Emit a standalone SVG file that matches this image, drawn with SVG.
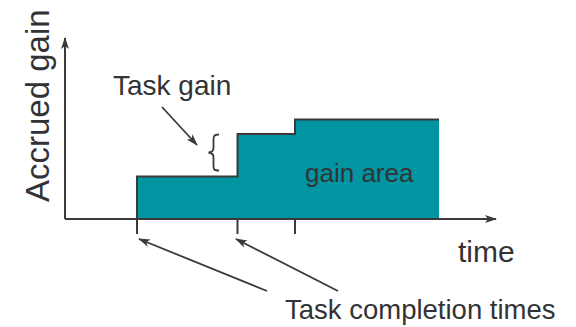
<svg xmlns="http://www.w3.org/2000/svg" width="576" height="327" viewBox="0 0 576 327">
<style>
.ln{fill:none;stroke:#3a3a3c;stroke-width:2}
.ar{fill:none;stroke:#3a3a3c;stroke-width:1.8}
.t{font-family:"Liberation Sans",Arial,sans-serif;fill:#333336}
</style>
<defs>
<marker id="ah" viewBox="0 0 12 8" refX="11" refY="4" markerWidth="12" markerHeight="8" markerUnits="userSpaceOnUse" orient="auto">
<path d="M0,0 L12,4 L0,8 L3,4 Z" fill="#3a3a3c"/>
</marker>
</defs>
<g id="gain-area">
<path d="M137,219 V176.5 H237.5 V134 H295 V119.5 H439 V219 Z" fill="#0095a0"/>
<path class="ln" d="M137,219 V176.5 H237.5 V134 H295 V119.5 H439"/>
<text class="t" x="305" y="182" font-size="26">gain area</text>
</g>
<g id="axes">
<path class="ln" d="M65,219 V38" marker-end="url(#ah)"/>
<path class="ln" d="M65,219 H496" marker-end="url(#ah)"/>
<path class="ln" d="M137,219 V234 M237.5,219 V234 M295,219 V234"/>
<text class="t" font-size="33" transform="translate(49,202) rotate(-90)">Accrued gain</text>
<text class="t" x="458" y="262" font-size="30">time</text>
</g>
<g id="task-gain">
<text class="t" x="113" y="95" font-size="28">Task gain</text>
<path class="ar" d="M219,134.5 C213,134.5 213.5,137 213.5,142 V148 C213.5,151 212,152 208.5,152.5 C212,153 213.5,154 213.5,157 V164 C213.5,169 213,170.5 219,170.5"/>
</g>
<g id="task-completion">
<text class="t" x="285" y="319" font-size="27.5">Task completion times</text>
</g>
<g id="connectors">
<path class="ar" d="M162,107 L197,145" marker-end="url(#ah)"/>
<path class="ar" d="M267,291 L139,239" marker-end="url(#ah)"/>
<path class="ar" d="M338,291 L236,239" marker-end="url(#ah)"/>
</g>
</svg>
